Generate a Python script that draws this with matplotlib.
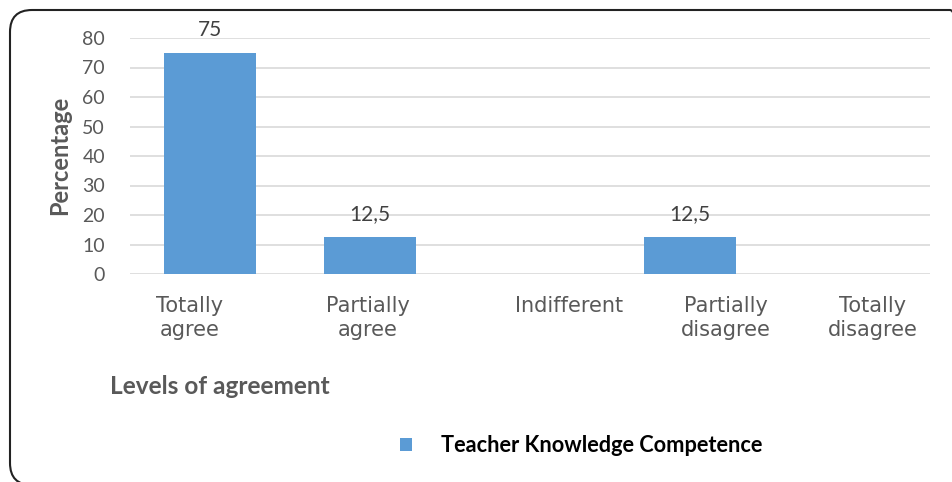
import matplotlib
matplotlib.use("Agg")
import matplotlib.pyplot as plt
import matplotlib.transforms as mtrans
from matplotlib.patches import FancyBboxPatch

categories = ["Totally\nagree", "Partially\nagree", "Indifferent", "Partially\ndisagree", "Totally\ndisagree"]
values = [75, 12.5, 0, 12.5, 0]
value_labels = ["75", "12,5", "", "12,5", ""]
yticks = [0, 10, 20, 30, 40, 50, 60, 70, 80]
series_name = "Teacher Knowledge Competence"

W, H = 952, 482
DPI = 100
fig = plt.figure(figsize=(W / DPI, H / DPI), dpi=DPI)

ax = fig.add_axes([130 / W, 1 - 274 / H, (930 - 130) / W, (274 - 38) / H])
x = list(range(len(categories)))
bars = ax.bar(x, values, width=0.57, color="#5B9BD5", zorder=3, label=series_name)
ax.set_xlim(-0.5, len(categories) - 0.5)
ax.set_ylim(0, 80)
ax.set_yticks(yticks)
ax.set_yticklabels([str(t) for t in yticks])
for t in ax.get_yticklabels():
    t.set_fontfamily("Lato")
    t.set_fontsize(14)
    t.set_color("#595959")
ax.set_xticks(x)
ax.set_xticklabels([])
ax.tick_params(axis="both", length=0)
ax.tick_params(axis="y", pad=18)
ax.grid(axis="y", color="#D9D9D9", linewidth=1.2, zorder=0)
ax.set_axisbelow(True)
for s in ax.spines.values():
    s.set_visible(False)

# Excel-style placement of the wrapped category labels (horizontal shift in pixels)
label_shift_px = [-20, -2, 39, 36, 23]
for xi, lab, dx in zip(x, categories, label_shift_px):
    tr = ax.get_xaxis_transform() + mtrans.ScaledTranslation(dx / DPI, -22 / DPI, fig.dpi_scale_trans)
    ax.text(xi, 0, lab, transform=tr, ha="center", va="top", multialignment="center",
            fontfamily="DejaVu Sans", fontsize=15, color="#595959", linespacing=1.25)

for xi, v, lab in zip(x, values, value_labels):
    if lab:
        ax.annotate(lab, (xi, v), xytext=(0, 9.5), textcoords="offset points",
                    ha="center", va="bottom", fontfamily="Lato", fontsize=15, color="#404040")

fig.text(60 / W, 1 - 155 / H, "Percentage", rotation=90, ha="center", va="center",
         fontfamily="Lato", fontweight="bold", fontsize=17, color="#595959")
fig.text(110 / W, 1 - 386 / H, "Levels of agreement", ha="left", va="center",
         fontfamily="Lato", fontweight="bold", fontsize=17.6, color="#595959")

leg = fig.legend(handles=[bars], labels=[series_name], loc="center left",
                 bbox_to_anchor=(400 / W, 1 - 446 / H), frameon=False, borderpad=0,
                 borderaxespad=0,
                 prop={"family": "Lato", "weight": "bold", "size": 15.7},
                 handlelength=0.56, handleheight=0.56, handletextpad=1.3)
for t in leg.get_texts():
    t.set_color("black")

box = FancyBboxPatch((10, -3), 972 - 10, 472 + 3,
                     boxstyle="round,pad=0,rounding_size=22",
                     transform=mtrans.IdentityTransform(), fill=False, edgecolor="#222222",
                     linewidth=1.5)
fig.patches.append(box)

fig.savefig("out.png", dpi=DPI)
